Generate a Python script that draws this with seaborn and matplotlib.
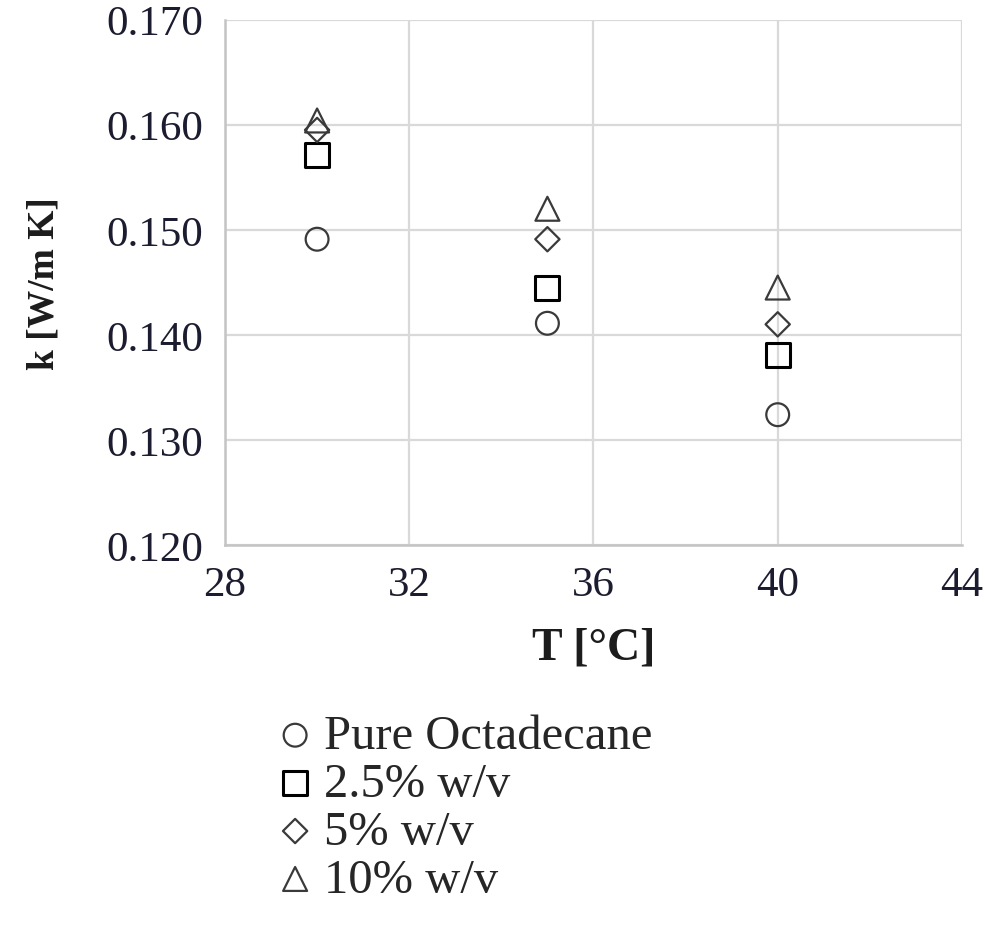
import matplotlib
matplotlib.use("Agg")
import matplotlib.pyplot as plt
import seaborn as sns
import pandas as pd

temps = [30, 35, 40]
pure = [0.1491, 0.1411, 0.1324]
w25 = [0.1571, 0.1445, 0.1381]
w5 = [0.1595, 0.1491, 0.1410]
w10 = [0.1604, 0.1520, 0.1445]
labels = ["Pure Octadecane", "2.5% w/v", "5% w/v", "10% w/v"]
xticks = [28, 32, 36, 40, 44]
yticks = [0.120, 0.130, 0.140, 0.150, 0.160, 0.170]

sns.set_theme(style="white")
plt.rcParams["font.family"] = ["Liberation Serif", "DejaVu Serif"]

fig = plt.figure(figsize=(9.85, 9.37), dpi=100)
ax = fig.add_axes([0.2284, 0.4173, 0.7482, 0.5607])

series = [pure, w25, w5, w10]
markers = ["o", "s", "D", "^"]
sizes = [300, 330, 170, 330]
edgecols = ["#3a3a3a", "black", "#3a3a3a", "#3a3a3a"]
lws = [1.6, 2.2, 1.6, 1.6]

for vals, lab, m, s, ec, lw in zip(series, labels, markers, sizes, edgecols, lws):
    df = pd.DataFrame({"T": temps, "k": vals})
    sns.scatterplot(data=df, x="T", y="k", marker=m, s=s, facecolor="none",
                    edgecolor=ec, linewidth=lw, label=lab, ax=ax, zorder=3)

ax.set_xlim(28, 44)
ax.set_ylim(0.120, 0.170)
ax.set_xticks(xticks)
ax.set_yticks(yticks)
ax.set_yticklabels([f"{v:.3f}" for v in yticks])
ax.grid(True, color="#d9d9d9", linewidth=1.6)
for sp in ax.spines.values():
    sp.set_visible(False)
ax.spines["left"].set_visible(True)
ax.spines["left"].set_color("#c4c4c4")
ax.spines["left"].set_linewidth(1.8)
ax.spines["bottom"].set_visible(True)
ax.spines["bottom"].set_color("#c4c4c4")
ax.spines["bottom"].set_linewidth(1.8)
ax.tick_params(axis="both", length=0, labelsize=31, colors="#1c1c30")
ax.tick_params(axis="x", pad=15)
ax.tick_params(axis="y", pad=16)
ax.set_xlabel("T [°C]", fontsize=33, fontweight="bold", color="#1c1c1c", labelpad=16)
ax.set_ylabel("k [W/m K]", fontsize=27, fontweight="bold", color="#1c1c1c", labelpad=32)

handles, labs = ax.get_legend_handles_labels()
if ax.legend_:
    ax.legend_.remove()
for h in handles:
    h.set_sizes([h.get_sizes()[0] * 0.9])
leg = fig.legend(handles, labs, loc="upper left", bbox_to_anchor=(0.27, 0.237),
                 frameon=False, fontsize=35, handletextpad=0.0, labelspacing=0.08,
                 handlelength=1.2, borderaxespad=0, borderpad=0)

fig.savefig("out.png", dpi=100)
